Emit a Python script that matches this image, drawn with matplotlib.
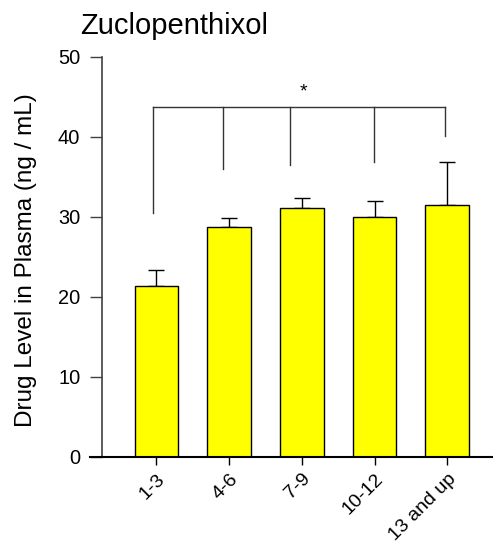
import matplotlib
matplotlib.use("Agg")
import matplotlib.pyplot as plt
import matplotlib.transforms as mtransforms
import numpy as np

plt.rcParams['font.family'] = ['Liberation Sans', 'DejaVu Sans']

categories = ["1-3", "4-6", "7-9", "10-12", "13 and up"]
means = [21.3, 28.65, 31.05, 29.95, 31.5]
errors = [2.0, 1.15, 1.25, 1.95, 5.3]
yticks = [0, 10, 20, 30, 40, 50]
title = "Zuclopenthixol"
ylabel = "Drug Level in Plasma (ng / mL)"

# significance bracket (data values)
bracket_y = 43.7
bracket_x = [-0.045, 0.915, 1.83, 2.99, 3.965]
bracket_bottoms = [30.5, 35.9, 36.4, 36.85, 40.1]
star_text = "*"
star_y = 45.6

fig = plt.figure(figsize=(4.93, 5.44), dpi=100)
ax = fig.add_axes([101.7/493, 1-456.5/544, 1-101.7/493, (456.5-56.5)/544])

x = np.arange(len(categories))
ax.bar(x, means, width=0.6, color="#ffff00", edgecolor="black", linewidth=1.0, zorder=2)
ax.errorbar(x, means, yerr=[np.zeros(len(errors)), errors], fmt='none',
            ecolor="black", elinewidth=1.0, capsize=6, capthick=1.0, zorder=1)

ax.set_xlim(-0.754, 4.63)
ax.set_ylim(0, 50)
ax.set_yticks(yticks)
ax.set_xticks(x)
ax.set_xticklabels(categories, rotation=45, ha='right', va='top', rotation_mode='anchor', fontsize=14)
offset = mtransforms.ScaledTranslation(-4/100, -2.5/100, fig.dpi_scale_trans)
for lab in ax.get_xticklabels():
    lab.set_transform(lab.get_transform() + offset)
ax.tick_params(axis='y', length=8.4, width=1.0, labelsize=14.4, color="#404040", pad=7)
ax.tick_params(axis='x', length=6.0, width=1.0, color="black", pad=4)

for s in ['top', 'right']:
    ax.spines[s].set_visible(False)
ax.spines['left'].set_color("#404040")
ax.spines['left'].set_linewidth(1.2)
ax.spines['bottom'].set_color("black")
ax.spines['bottom'].set_linewidth(1.5)
ax.spines['bottom'].set_bounds(-0.754 - 11.7/72.7, 4.63)

# bracket
ax.plot([bracket_x[0], bracket_x[-1]], [bracket_y, bracket_y], color="#333333", lw=1.0)
for bx, bb in zip(bracket_x, bracket_bottoms):
    ax.plot([bx, bx], [bracket_y, bb], color="#333333", lw=1.0)
ax.text(2.02, star_y, star_text, ha='center', va='center', fontsize=14)

ax.set_ylabel(ylabel, fontsize=17.5)
ax.yaxis.set_label_coords((37 - 101.7) / 391.3, (456.5 - 260) / 400)
fig.text(80/493, 1-26/544, title, fontsize=21, ha='left', va='center')

fig.savefig("out.png", dpi=100)
